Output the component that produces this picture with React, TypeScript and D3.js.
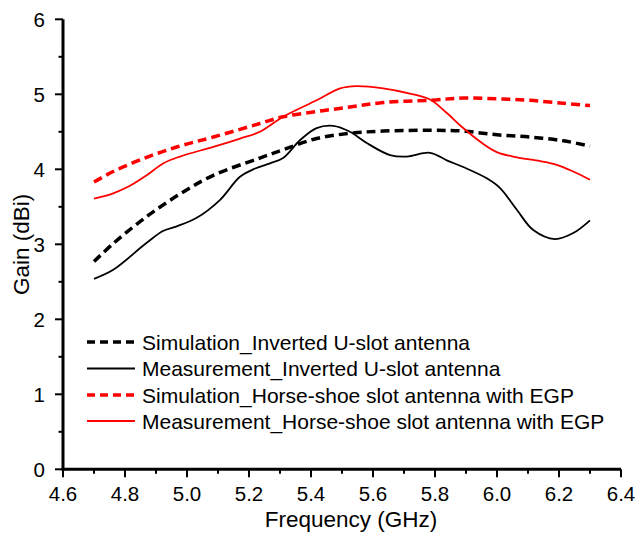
import React from "react";
import * as d3 from "d3";

const xTicks = [4.6, 4.8, 5.0, 5.2, 5.4, 5.6, 5.8, 6.0, 6.2, 6.4];
const yTicks = [0, 1, 2, 3, 4, 5, 6];

const simUFreq = [4.7, 4.762, 4.87, 4.977, 5.085, 5.235, 5.31, 5.418, 5.526, 5.633, 5.784, 5.89, 6.0, 6.106, 6.214, 6.3];
const simUGain = [2.77, 3.01, 3.37, 3.67, 3.92, 4.15, 4.26, 4.41, 4.48, 4.51, 4.52, 4.51, 4.46, 4.43, 4.38, 4.31];

const measUFreq = [4.7, 4.762, 4.87, 4.924, 4.967, 5.03, 5.106, 5.171, 5.22, 5.268, 5.31, 5.365, 5.418, 5.472, 5.526, 5.58, 5.655, 5.709, 5.784, 5.838, 5.891, 5.967, 6.01, 6.064, 6.117, 6.187, 6.246, 6.3];
const measUGain = [2.54, 2.66, 3.02, 3.18, 3.24, 3.35, 3.59, 3.9, 4.01, 4.08, 4.15, 4.39, 4.55, 4.58, 4.5, 4.35, 4.19, 4.17, 4.22, 4.12, 4.03, 3.88, 3.75, 3.46, 3.19, 3.07, 3.15, 3.32];

const simHFreq = [4.7, 4.762, 4.87, 4.977, 5.085, 5.235, 5.31, 5.418, 5.526, 5.633, 5.784, 5.89, 6.0, 6.106, 6.214, 6.3];
const simHGain = [3.83, 3.97, 4.16, 4.31, 4.43, 4.61, 4.7, 4.77, 4.83, 4.89, 4.92, 4.95, 4.94, 4.92, 4.88, 4.85];

const measHFreq = [4.7, 4.762, 4.816, 4.87, 4.924, 4.977, 5.085, 5.171, 5.235, 5.31, 5.418, 5.494, 5.547, 5.633, 5.719, 5.784, 5.838, 5.891, 5.945, 5.999, 6.064, 6.139, 6.193, 6.246, 6.3];
const measHGain = [3.61, 3.68, 3.78, 3.92, 4.08, 4.17, 4.3, 4.41, 4.5, 4.7, 4.92, 5.08, 5.11, 5.08, 5.01, 4.93, 4.75, 4.55, 4.37, 4.23, 4.16, 4.11, 4.06, 3.97, 3.86];

const seriesNames = [
  "Simulation_Inverted U-slot antenna",
  "Measurement_Inverted U-slot antenna",
  "Simulation_Horse-shoe slot antenna with EGP",
  "Measurement_Horse-shoe slot antenna with EGP",
];

const W = 636;
const H = 533;
const left = 63;
const right = 621;
const top = 19.3;
const bottom = 469.3;
const FONT = "'Liberation Sans', Arial, sans-serif";

export default function App() {
  const x = d3.scaleLinear().domain([4.6, 6.4]).range([left, right]);
  const y = d3.scaleLinear().domain([0, 6]).range([bottom, top]);
  const line = d3
    .line<[number, number]>()
    .x((d) => x(d[0]))
    .y((d) => y(d[1]))
    .curve(d3.curveCatmullRom.alpha(0.5));

  const series = [
    { f: simUFreq, g: simUGain, color: "#000", width: 3.5, dash: "9,5" },
    { f: measUFreq, g: measUGain, color: "#000", width: 1.8, dash: undefined },
    { f: simHFreq, g: simHGain, color: "#ff0000", width: 3.5, dash: "9,5" },
    { f: measHFreq, g: measHGain, color: "#ff0000", width: 1.8, dash: undefined },
  ];

  const xMinor = d3.range(0, 9).map((i) => 4.7 + i * 0.2);
  const yMinor = d3.range(0, 6).map((i) => 0.5 + i);
  const legendY = [342, 368.5, 395, 421];

  return (
    <svg width={W} height={H} style={{ position: "absolute", left: 0, top: 0, background: "#fff" }} fontFamily={FONT}>
      <rect width={W} height={H} fill="#fff" />
      {series.map((s, i) => (
        <path
          key={i}
          d={line(s.f.map((f, j) => [f, s.g[j]] as [number, number])) || ""}
          fill="none"
          stroke={s.color}
          strokeWidth={s.width}
          strokeDasharray={s.dash}
        />
      ))}
      {/* axes */}
      <line x1={left} x2={left} y1={top} y2={bottom + 1.5} stroke="#000" strokeWidth={3} />
      <line x1={left - 1.5} x2={right} y1={bottom} y2={bottom} stroke="#000" strokeWidth={3} />
      {xTicks.map((t) => (
        <g key={"xt" + t}>
          <line x1={x(t)} x2={x(t)} y1={bottom} y2={bottom + 8} stroke="#000" strokeWidth={2} />
          <text x={x(t)} y={501} textAnchor="middle" fontSize={20.5}>
            {t.toFixed(1)}
          </text>
        </g>
      ))}
      {xMinor.map((t) => (
        <line key={"xm" + t} x1={x(t)} x2={x(t)} y1={bottom} y2={bottom + 4.5} stroke="#000" strokeWidth={2} />
      ))}
      {yTicks.map((t) => (
        <g key={"yt" + t}>
          <line x1={left - 8} x2={left} y1={y(t)} y2={y(t)} stroke="#000" strokeWidth={2} />
          <text x={45} y={y(t)} dy="0.36em" textAnchor="end" fontSize={20.5}>
            {t}
          </text>
        </g>
      ))}
      {yMinor.map((t) => (
        <line key={"ym" + t} x1={left - 4.5} x2={left} y1={y(t)} y2={y(t)} stroke="#000" strokeWidth={2} />
      ))}
      <text x={351} y={527} textAnchor="middle" fontSize={22.5}>
        Frequency (GHz)
      </text>
      <text transform={`translate(29, ${(top + bottom) / 2}) rotate(-90)`} textAnchor="middle" fontSize={22.5}>
        Gain (dBi)
      </text>
      {/* legend */}
      {series.map((s, i) => (
        <g key={"lg" + i}>
          <line x1={87} x2={135} y1={legendY[i]} y2={legendY[i]} stroke={s.color} strokeWidth={s.width === 3.5 ? 3.3 : 1.8} strokeDasharray={s.dash ? "8,5" : undefined} />
          <text x={142} y={legendY[i]} dy="0.36em" fontSize={21}>
            {seriesNames[i]}
          </text>
        </g>
      ))}
    </svg>
  );
}
